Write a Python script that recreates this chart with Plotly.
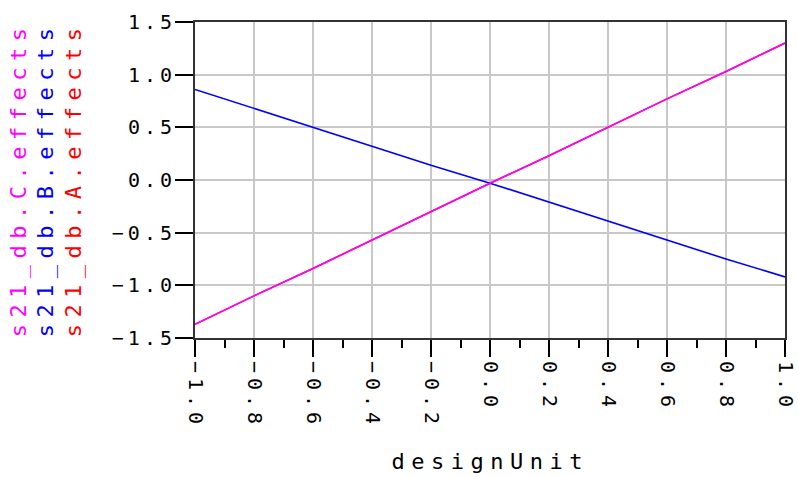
import plotly.graph_objects as go

# design sweep values and the three effect series
design_unit = [-1.0, -0.8, -0.6, -0.4, -0.2, 0.0, 0.2, 0.4, 0.6, 0.8, 1.0]
a_effects = [-1.37, -1.10, -0.84, -0.57, -0.30, -0.03, 0.23, 0.50, 0.77, 1.03, 1.30]
b_effects = [0.86, 0.68, 0.50, 0.32, 0.14, -0.03, -0.21, -0.39, -0.57, -0.75, -0.92]
c_effects = [-1.37, -1.10, -0.84, -0.57, -0.30, -0.03, 0.23, 0.50, 0.77, 1.03, 1.30]

series_names = ["s21_db.C.effects", "s21_db.B.effects", "s21_db.A.effects"]
series_colors = ["#ff00ff", "#0000ff", "#ff0000"]

FONT = "DejaVu Sans Mono"

fig = go.Figure()
fig.add_trace(go.Scatter(x=design_unit, y=a_effects, mode="lines",
                         line=dict(color="#ff0000", width=1.6), name=series_names[2]))
fig.add_trace(go.Scatter(x=design_unit, y=b_effects, mode="lines",
                         line=dict(color="#0000ff", width=1.6), name=series_names[1]))
fig.add_trace(go.Scatter(x=design_unit, y=c_effects, mode="lines",
                         line=dict(color="#ff00ff", width=1.6), name=series_names[0]))

# stacked vertical labels on the left, one per series
label_x = [18, 45, 73]
for name, color, px in zip(series_names, series_colors, label_x):
    fig.add_annotation(text=name, xref="paper", yref="paper",
                       x=(px - 195) / 590, y=0.502, textangle=-90,
                       showarrow=False, xanchor="center", yanchor="middle",
                       font=dict(family=FONT, size=22, color=color))

fig.add_annotation(text="designUnit", xref="paper", yref="paper",
                   x=0.5, y=(338 - 462) / 316, showarrow=False,
                   xanchor="center", yanchor="middle",
                   font=dict(family=FONT, size=22, color="#000000"))

fig.update_layout(
    width=798, height=477,
    margin=dict(l=195, r=13, t=22, b=139, autoexpand=False),
    paper_bgcolor="white", plot_bgcolor="white",
    showlegend=False,
    xaxis=dict(range=[-1.0, 1.0], tick0=-1.0, dtick=0.2, tickformat=".1f",
               tickangle=90, ticks="outside", ticklen=17, tickwidth=2,
               tickcolor="#000000", showline=True, linecolor="#333333",
               linewidth=2, mirror=True, showgrid=True, gridcolor="#c8c8c8",
               gridwidth=2, zeroline=False,
               tickfont=dict(family=FONT, size=20, color="#000000"),
               minor=dict(dtick=0.1, ticks="outside", ticklen=8, tickwidth=2,
                          tickcolor="#000000", showgrid=False)),
    yaxis=dict(range=[-1.5, 1.5], tick0=-1.5, dtick=0.5, tickformat=".1f",
               ticks="outside", ticklen=18, tickwidth=2, tickcolor="#000000",
               showline=True, linecolor="#333333", linewidth=2, mirror=True,
               showgrid=True, gridcolor="#c8c8c8", gridwidth=2, zeroline=False,
               tickfont=dict(family=FONT, size=20, color="#000000")),
)

# widen character spacing of the axis texts
spacing_js = """
var gd = document.querySelector('.plotly-graph-div');
function spaceText() {
  gd.querySelectorAll('.ytick text').forEach(function (t) {
    t.style.letterSpacing = '4px';
    t.setAttribute('dx', '5');
  });
  gd.querySelectorAll('.xtick text').forEach(function (t) { t.style.letterSpacing = '5px'; });
  gd.querySelectorAll('.annotation-text').forEach(function (t) { t.style.letterSpacing = '6.5px'; });
}
spaceText();
gd.on('plotly_afterplot', spaceText);
"""

fig.write_html("out.html", post_script=spacing_js)
